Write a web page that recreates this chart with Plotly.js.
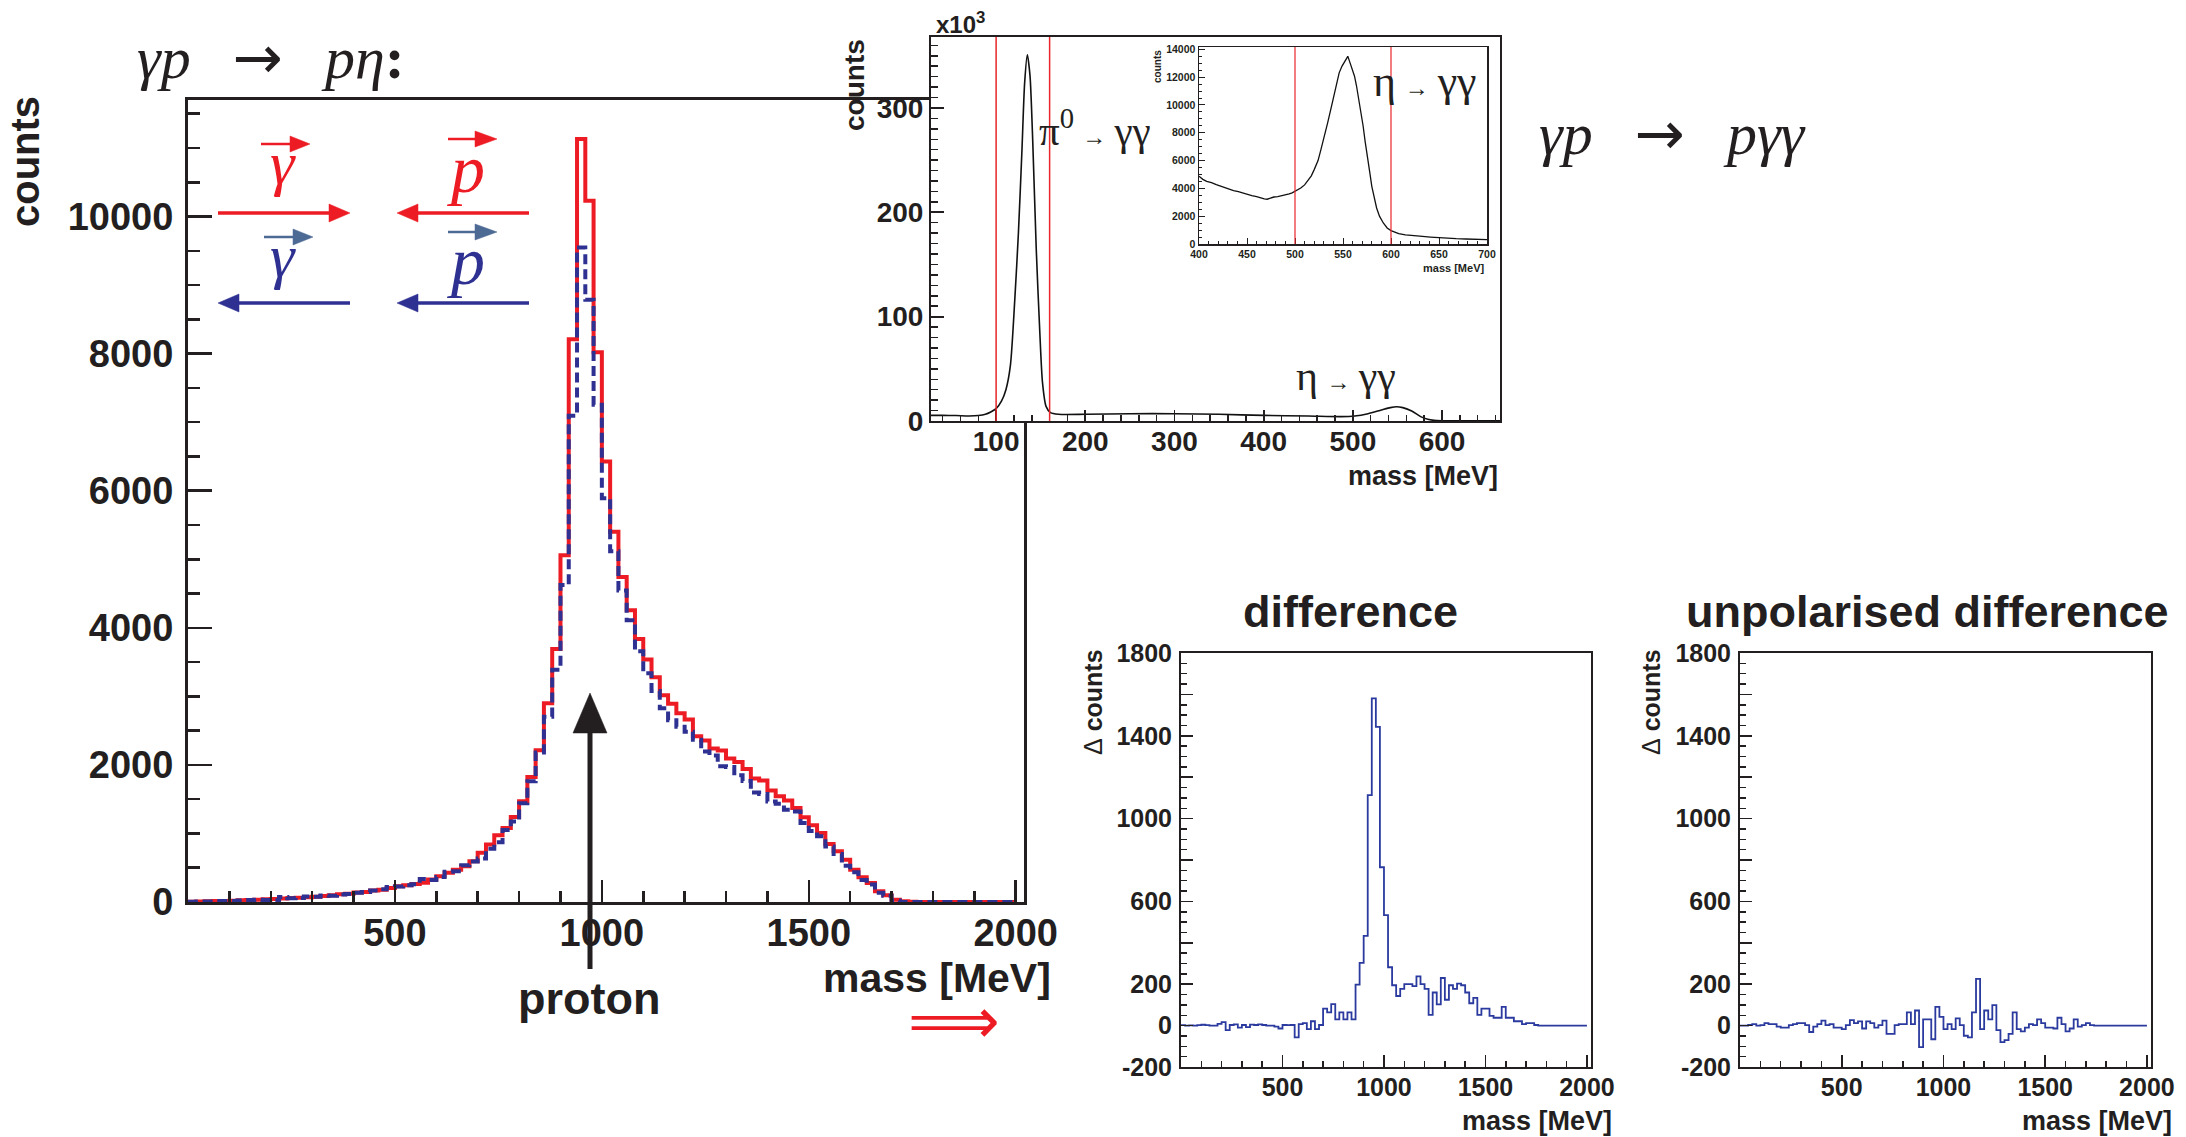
<!DOCTYPE html>
<html><head><meta charset="utf-8">
<script src="https://cdn.plot.ly/plotly-3.0.1.min.js"></script>
<style>html,body{margin:0;padding:0;background:#fff}#chart{width:2186px;height:1137px}</style>
</head><body><div id="chart"></div>
<script>
// ---------------- DATA ----------------
// bin edges (MeV) of the gamma-gamma-p mass histograms, 20 MeV bins
const massEdges = [0,20,40,60,80,100,120,140,160,180,200,220,240,260,280,300,320,340,360,380,
  400,420,440,460,480,500,520,540,560,580,600,620,640,660,680,700,720,740,760,780,
  800,820,840,860,880,900,920,940,960,980,1000,1020,1040,1060,1080,1100,1120,1140,1160,1180,
  1200,1220,1240,1260,1280,1300,1320,1340,1360,1380,1400,1420,1440,1460,1480,1500,1520,1540,1560,1580,
  1600,1620,1640,1660,1680,1700,1720,1740,1760,1780,1800,1820,1840,1860,1880,1900,1920,1940,1960,1980,2000];
// red solid histogram (photon || proton helicity)
const countsRed = [5,6,10,14,16,20,24,29,34,39,
  44,50,57,63,69,78,88,98,112,122,
  137,146,166,180,205,230,245,263,280,327,
  375,425,470,520,595,717,840,975,1080,1240,
  1470,1825,2212,2900,3690,5059,8208,11130,10230,8020,
  6425,5400,4740,4255,3835,3538,3280,3018,2891,2755,
  2662,2419,2356,2239,2210,2093,2044,1942,1801,1772,
  1626,1543,1480,1372,1236,1119,1007,847,740,618,
  472,360,277,156,97,34,12,4,1,1,
  0,0,0,0,0,0,0,0,0,0];
// blue dashed histogram (opposite helicity)
const countsBlue = [3,6,9,14,14,16,22,29,34,31,
  27,72,54,57,79,75,95,93,109,116,
  134,146,166,185,219,227,243,260,337,320,
  363,442,449,537,592,635,776,871,1050,1176,
  1440,1761,2182,2702,3387,4626,7095,9549,8787,7255,
  5891,5118,4545,4112,3658,3338,3080,2827,2653,2555,
  2485,2367,2196,2136,1980,1968,1849,1765,1598,1577,
  1466,1435,1346,1320,1154,1037,960,809,702,528,
  434,322,256,135,90,22,0,1,1,1,
  0,0,0,0,0,0,0,0,0,0];
// "difference" panel (delta counts per bin)
const diffPolarised = [2,0,1,0,2,4,2,0,0,8,
  17,-22,3,6,-10,3,-7,5,3,6,
  3,0,0,-5,-14,3,2,3,-57,7,
  12,-17,21,-17,3,82,64,104,30,64,
  30,64,30,198,303,433,1113,1581,1443,765,
  534,282,195,143,177,200,200,191,238,200,
  177,52,160,103,230,125,195,177,203,195,
  160,108,134,52,82,82,47,38,38,90,
  38,38,21,21,7,12,12,3,0,0,
  0,0,0,0,0,0,0,0,0,0];
// "unpolarised difference" panel
const diffUnpolarised = [0,0,3,7,0,2,12,7,7,-5,
  -10,-10,2,7,12,12,2,-31,-5,7,
  24,2,7,-10,-10,-17,2,26,12,20,
  -14,20,12,-10,2,24,-40,-40,2,7,
  7,64,7,73,-104,30,30,-66,90,42,
  -17,7,-17,35,2,-49,-57,64,226,-17,
  73,30,99,-22,-80,-70,-40,64,-17,-28,
  -10,7,2,30,12,-10,-10,-14,38,7,
  -28,-14,30,-5,2,12,2,0,0,0,
  0,0,0,0,0,0,0,0,0,0];
// two-photon invariant mass spectrum (inset), counts in units of 10^3
const ggMass   = [27,40,55,70,80,88,94,100,106,111,116,121,125,129,132,135,138,141,145,149,152,156,161,170,200,250,300,350,400,450,487,502,517,532,542,549,556,566,576,584,591,600,665];
const ggCounts = [5.4,5.4,5.2,4.8,5.2,6.4,8.6,11.8,19,30,53,117,180,260,324,351,331,270,165,85,37,14,8,6.4,6.4,7,7,6.4,5.4,4.8,4.2,4.8,7,10.5,12.8,13.7,12.8,9.6,4.2,1.6,0.6,0.3,0.1];
// eta region zoom (inner inset)
const etaMass   = [400,404,408,413,418,423,427,432,436,441,445,450,455,460,464,468,471,475,478,482,487,491,494,497,500,503,506,510,513,517,520,524,527,531,534,538,541,544,546,549,551,553,555,557,558,560,562,564,566,569,571,573,575,578,580,583,585,588,592,596,600,604,608,615,622,630,641,650,659,668,678,690,700];
const etaCounts = [4870,4650,4510,4420,4270,4150,4030,3950,3840,3760,3670,3600,3480,3400,3310,3250,3220,3300,3380,3400,3480,3520,3600,3680,3790,3900,4030,4250,4510,4900,5350,6000,6790,7800,8710,9900,10870,11800,12310,12800,13030,13250,13500,13100,12910,12500,12070,11400,10630,9400,8470,7400,6600,5100,4150,3200,2590,2000,1510,1150,960,850,740,660,600,560,500,450,410,380,360,330,310];
// cut windows (MeV)
const pi0Cuts = [100,160];
const etaCuts = [500,600];
// ticks and tick labels
const mainXTicks = [500,1000,1500,2000];
const mainXText  = ['500','1000','1500','2000'];
const mainYTicks = [0,2000,4000,6000,8000,10000];
const mainYText  = ['0','2000','4000','6000','8000','10000'];
const ggXTicks = [100,200,300,400,500,600];
const ggXText  = ['100','200','300','400','500','600'];
const ggYTicks = [0,100,200,300];
const ggYText  = ['0','100','200','300'];
const etaXTicks = [400,450,500,550,600,650,700];
const etaXText  = ['400','450','500','550','600','650','700'];
const etaYTicks = [0,2000,4000,6000,8000,10000,12000,14000];
const etaYText  = ['0','2000','4000','6000','8000','10000','12000','14000'];
const diffYTicks = [-200,0,200,400,600,800,1000,1200,1400,1600,1800];
const diffYText  = ['-200','0','200',' ','600',' ','1000',' ','1400',' ','1800'];

// ---------------- LAYOUT HELPERS ----------------
const W = 2186, H = 1137;
const X = p => p / W, Y = p => 1 - p / H;
const INK = '#231f20', RED = '#ed1c24', BLUE = '#2e3192', SLATE = '#4d6a95', HBLUE = '#2b3a9e';
const SANS = 'Liberation Sans, Arial, Helvetica, sans-serif';
const SERIF = 'Liberation Serif, Times New Roman, serif';
const step = v => v.concat([v[v.length - 1]]);

function axis(domain, range, o) {
  return Object.assign({domain, range, autorange:false, showline:true, linecolor:INK, linewidth:2,
    mirror:true, ticks:'inside', tickcolor:INK, showgrid:false, zeroline:false, automargin:false,
    fixedrange:true, tickmode:'array'}, o);
}
function tf(size) { return {family:SANS, size, color:INK, weight:'bold'}; }
function minor(dtick, len, w) { return {tickmode:'linear', tick0:0, dtick, ticks:'inside', ticklen:len, tickwidth:w, tickcolor:INK, showgrid:false}; }

function arrow(x1, y1, x2, y2, color, lw, hl, hw) {
  const dx = x2 - x1, dy = y2 - y1, L = Math.hypot(dx, dy), ux = dx / L, uy = dy / L;
  const bx = x2 - ux * hl, by = y2 - uy * hl, px = -uy, py = ux;
  return [
    {type:'line', xref:'paper', yref:'paper', x0:X(x1), y0:Y(y1), x1:X(bx + ux * 2), y1:Y(by + uy * 2), line:{color, width:lw}},
    {type:'path', xref:'paper', yref:'paper', fillcolor:color, line:{color, width:0.5},
     path:`M${X(x2)},${Y(y2)} L${X(bx + px * hw)},${Y(by + py * hw)} L${X(bx - px * hw)},${Y(by - py * hw)} Z`}
  ];
}
function ann(text, px, py, font, o) {
  return Object.assign({text, x:X(px), y:Y(py), xref:'paper', yref:'paper', showarrow:false,
    xanchor:'center', yanchor:'middle', font}, o || {});
}
const boldF = (s, c) => ({family:SANS, size:s, color:c || INK, weight:'bold'});
const serifF = (s, c) => ({family:SERIF, size:s, color:c || INK});
const ARROW = '<span style="font-family:DejaVu Sans;font-size:60px">→</span>';
const GAP = '\u2002\u2009';

// ---------------- TRACES ----------------
const traces = [
  {x:massEdges, y:step(countsRed), xaxis:'x', yaxis:'y', mode:'lines', line:{color:RED, width:4, shape:'hv'}},
  {x:massEdges, y:step(countsBlue), xaxis:'x', yaxis:'y', mode:'lines', line:{color:BLUE, width:4, shape:'hv', dash:'10px,5px'}},
  {x:ggMass, y:ggCounts, xaxis:'x2', yaxis:'y2', mode:'lines', line:{color:'#111', width:1.6, shape:'spline', smoothing:0.7}},
  {x:etaMass, y:etaCounts, xaxis:'x3', yaxis:'y3', mode:'lines', line:{color:'#111', width:1.3}},
  {x:massEdges, y:step(diffPolarised), xaxis:'x4', yaxis:'y4', mode:'lines', line:{color:HBLUE, width:1.8, shape:'hv'}},
  {x:massEdges, y:step(diffUnpolarised), xaxis:'x5', yaxis:'y5', mode:'lines', line:{color:HBLUE, width:1.8, shape:'hv'}}
];

// ---------------- SHAPES ----------------
let shapes = [];
pi0Cuts.forEach(v => shapes.push({type:'line', xref:'x2', yref:'y2 domain', x0:v, x1:v, y0:0, y1:1, line:{color:'#e8262b', width:1.5}}));
etaCuts.forEach(v => shapes.push({type:'line', xref:'x3', yref:'y3 domain', x0:v, x1:v, y0:0, y1:1, line:{color:'#e8262b', width:1.2}}));
// helicity arrows
shapes = shapes.concat(
  arrow(218, 213, 350, 213, RED, 3.5, 21, 9),
  arrow(529, 213, 397, 213, RED, 3.5, 21, 9),
  arrow(350, 303, 218, 303, BLUE, 3.5, 21, 9),
  arrow(529, 303, 397, 303, BLUE, 3.5, 21, 9),
  arrow(261, 144, 310, 144, RED, 2.5, 20, 8),
  arrow(448, 139, 497, 139, RED, 2.5, 22, 8),
  arrow(264, 237, 313, 237, SLATE, 2.5, 20, 8),
  arrow(448, 232, 497, 232, SLATE, 2.5, 22, 8),
  arrow(590, 969, 590, 693, INK, 5, 40, 17)
);

// ---------------- ANNOTATIONS ----------------
const annotations = [
  ann('<i>γp</i>' + GAP + ARROW + GAP + '<i>pη</i><b>:</b>', 135, 57, serifF(60), {xanchor:'left'}),
  ann('<i>γp</i>' + GAP + ARROW + GAP + '<i>pγγ</i>', 1537, 133, serifF(60), {xanchor:'left'}),
  ann('counts', 25, 162, boldF(40), {textangle:-90}),
  ann('mass [MeV]', 1053, 978, boldF(41), {xanchor:'right'}),
  ann('proton', 589, 998, boldF(45)),
  ann('⟹', 954, 1021, {family:'DejaVu Sans', size:64, color:RED}),
  ann('<i>γ</i>', 283, 163, serifF(62, RED)),
  ann('<i>p</i>', 466, 169, serifF(68, RED)),
  ann('<i>γ</i>', 283, 256, serifF(62, BLUE)),
  ann('<i>p</i>', 466, 261, serifF(68, BLUE)),
  // inset
  ann('x10<sup>3</sup>', 934, 23, boldF(24), {xanchor:'left'}),
  ann('counts', 854, 85, boldF(28), {textangle:-90}),
  ann('mass [MeV]', 1500, 476, boldF(27), {xanchor:'right'}),
  ann('π<sup>0</sup>\u2009<span style="font-size:24px">→</span>\u2009γγ', 1095, 128, serifF(41)),
  ann('η\u2009<span style="font-size:24px">→</span>\u2009γγ', 1346, 376, serifF(42)),
  ann('η\u2009<span style="font-size:24px">→</span>\u2009γγ', 1425, 81, serifF(44)),
  ann('counts', 1157, 67, boldF(10), {textangle:-90}),
  ann('mass [MeV]', 1486, 268, boldF(11), {xanchor:'right'}),
  // difference panels
  ann('difference', 1350, 611, boldF(45)),
  ann('unpolarised difference', 1927, 611, boldF(45)),
  ann('<span style="font-weight:normal">Δ</span> counts', 1093, 702, boldF(25), {textangle:-90}),
  ann('<span style="font-weight:normal">Δ</span> counts', 1651, 702, boldF(25), {textangle:-90}),
  ann('mass [MeV]', 1614, 1121, boldF(27), {xanchor:'right'}),
  ann('mass [MeV]', 2174, 1121, boldF(27), {xanchor:'right'})
];

// ---------------- LAYOUT ----------------
const layout = {
  width:W, height:H, margin:{l:0, r:0, t:0, b:0, pad:0},
  paper_bgcolor:'#ffffff', plot_bgcolor:'#ffffff', showlegend:false, hovermode:false,
  font:{family:SANS, color:INK},
  xaxis: axis([X(188), X(1024)], [0, 2020], {anchor:'y', linewidth:3, tickvals:mainXTicks, ticktext:mainXText, ticklen:22, tickwidth:2.5,
    tickfont:tf(38), ticklabelstandoff:-5, minor:minor(100, 11, 2.5)}),
  yaxis: axis([Y(902), Y(100)], [0, 11700], {anchor:'x', linewidth:3, tickvals:mainYTicks, ticktext:mainYText, ticklen:24, tickwidth:2.5,
    tickfont:tf(38), ticklabelstandoff:4, minor:minor(500, 12, 2.5)}),
  xaxis2: axis([X(931), X(1500)], [27, 665], {anchor:'y2', tickvals:ggXTicks, ticktext:ggXText, ticklen:11, tickwidth:1.8,
    tickfont:tf(28), ticklabelstandoff:-6, minor:minor(20, 6, 1.5)}),
  yaxis2: axis([Y(421), Y(37)], [0, 368], {anchor:'x2', tickvals:ggYTicks, ticktext:ggYText, ticklen:13, tickwidth:1.8,
    tickfont:tf(28), minor:minor(10, 7, 1.5)}),
  xaxis3: axis([X(1199), X(1487)], [400, 700], {anchor:'y3', linewidth:1.5, tickvals:etaXTicks, ticktext:etaXText, ticklen:6, tickwidth:1,
    tickfont:tf(10.5), minor:minor(10, 3, 1)}),
  yaxis3: axis([Y(244), Y(47)], [0, 14170], {anchor:'x3', linewidth:1.5, tickvals:etaYTicks, ticktext:etaYText, ticklen:6, tickwidth:1,
    tickfont:tf(10.5), minor:minor(500, 3, 1)}),
  xaxis4: axis([X(1181), X(1591)], [0, 2020], {anchor:'y4', tickvals:mainXTicks, ticktext:mainXText, ticklen:12, tickwidth:1.8,
    tickfont:tf(25), ticklabelstandoff:-3, minor:minor(100, 6, 1.5)}),
  yaxis4: axis([Y(1067), Y(653)], [-200, 1800], {anchor:'x4', tickvals:diffYTicks, ticktext:diffYText, ticklen:12, tickwidth:1.8,
    tickfont:tf(25), ticklabelstandoff:2, minor:minor(50, 6, 1.5)}),
  xaxis5: axis([X(1740), X(2151)], [0, 2020], {anchor:'y5', tickvals:mainXTicks, ticktext:mainXText, ticklen:12, tickwidth:1.8,
    tickfont:tf(25), ticklabelstandoff:-3, minor:minor(100, 6, 1.5)}),
  yaxis5: axis([Y(1067), Y(653)], [-200, 1800], {anchor:'x5', tickvals:diffYTicks, ticktext:diffYText, ticklen:12, tickwidth:1.8,
    tickfont:tf(25), ticklabelstandoff:2, minor:minor(50, 6, 1.5)}),
  shapes, annotations
};

Plotly.newPlot('chart', traces, layout, {displayModeBar:false, staticPlot:true});
</script>
</body></html>
